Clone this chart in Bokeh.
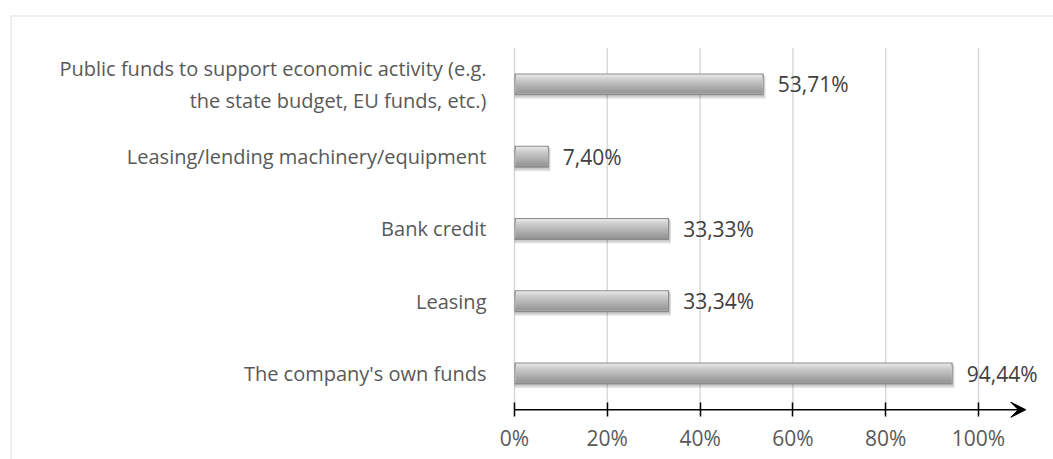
from bokeh.plotting import figure
from bokeh.models import (ColumnDataSource, FixedTicker, PrintfTickFormatter, Arrow,
                          VeeHead, BoxAnnotation, Range1d, LinearAxis)
from bokeh.transform import dodge
from bokeh.core.properties import value
from bokeh.embed import file_html
from bokeh.resources import INLINE

# ---- data (bottom to top) ----
categories = [
    "The company's own funds",
    "Leasing",
    "Bank credit",
    "Leasing/lending machinery/equipment",
    "Public funds to support economic activity (e.g.\nthe state budget, EU funds, etc.)",
]
shares = [94.44, 33.34, 33.33, 7.40, 53.71]
share_labels = ["94,44%", "33,34%", "33,33%", "7,40%", "53,71%"]
x_ticks = [0, 20, 40, 60, 80, 100]

positions = list(range(len(categories)))
src = ColumnDataSource(dict(pos=positions, share=shares, lab=share_labels))

W, H = 1053, 459
PX = 1.0 / 72.4  # one pixel in category units

p = figure(width=W, height=H, output_backend="svg", toolbar_location=None,
           x_range=Range1d(-110.776, 116.164), y_range=Range1d(-1.188, 5.160),
           x_axis_location=None, y_axis_location=None,
           min_border_left=0, min_border_right=0, min_border_top=0, min_border_bottom=0)
p.outline_line_color = None
p.xgrid.visible = False
p.ygrid.visible = False
p.background_fill_color = "white"
p.border_fill_color = "white"

# chart border (top & left light gray lines)
p.add_layout(BoxAnnotation(left=10.5, right=1100, top=15.5, bottom=520,
                           left_units="canvas", right_units="canvas",
                           top_units="canvas", bottom_units="canvas",
                           fill_alpha=0, line_color="#c8c8c8", line_width=2,
                           level="underlay"))

# vertical gridlines
p.segment(x0=x_ticks, y0=[-0.5] * len(x_ticks), x1=x_ticks, y1=[len(categories) - 0.5] * len(x_ticks),
          line_color="#d9d9d9", line_width=1.5)

# bar shadow
p.hbar(y=dodge("pos", -3 * PX, range=p.y_range), left=0, right=dodge("share", 0.4, range=p.x_range),
       height=23 * PX, source=src, fill_color="black", fill_alpha=0.10, line_color=None)
p.hbar(y=dodge("pos", -2 * PX, range=p.y_range), left=0, right=dodge("share", 0.25, range=p.x_range),
       height=22 * PX, source=src, fill_color="black", fill_alpha=0.10, line_color=None)
# bar base (edges)
p.hbar(y="pos", left=0, right="share", height=22 * PX, source=src,
       fill_color="#8c8c8c", line_color=None)
# gradient: 1px overlapping layers from the top highlight down to the darker lower part
grad = ["#e6e6e6", "#e0e0e0", "#dadada", "#d4d4d4", "#cfcfcf", "#cacaca", "#c6c6c6",
        "#c2c2c2", "#bebebe", "#bababa", "#b6b6b6", "#b2b2b2", "#aeaeae", "#aaaaaa",
        "#a6a6a6", "#a2a2a2", "#9e9e9e", "#9a9a9a"]
top_px = -10
bottom_px = 9
for k, c in enumerate(grad):
    t = top_px + k
    mid = -(t + bottom_px) / 2.0
    p.hbar(y=dodge("pos", mid * PX, range=p.y_range), left=0.3,
           right=dodge("share", -0.3, range=p.x_range), height=(bottom_px - t) * PX,
           source=src, fill_color=c, line_color=None)

# value labels
p.text(x="share", y="pos", text="lab", source=src, x_offset=14,
       text_baseline="middle", text_align="left",
       text_font=value("Open Sans"), text_font_size="21px", text_color="#404040")

# x axis with arrow
xaxis = LinearAxis(fixed_location=-0.5, ticker=FixedTicker(ticks=x_ticks),
                   formatter=PrintfTickFormatter(format="%d%%"))
xaxis.axis_line_color = None
xaxis.major_tick_in = 7
xaxis.major_tick_out = 7
xaxis.major_tick_line_color = "black"
xaxis.major_tick_line_width = 1.5
xaxis.minor_tick_line_color = None
xaxis.major_label_text_font = "Open Sans"
xaxis.major_label_text_font_size = "21px"
xaxis.major_label_text_color = "#595959"
xaxis.major_label_standoff = 7
p.add_layout(xaxis, "below")

p.add_layout(Arrow(end=VeeHead(size=15, fill_color="black", line_color="black", line_width=1),
                   x_start=0, y_start=-0.5, x_end=110.2, y_end=-0.5,
                   line_color="black", line_width=1.5))

# y axis with category labels
yaxis = LinearAxis(fixed_location=0, ticker=FixedTicker(ticks=positions))
yaxis.major_label_overrides = {i: c for i, c in zip(positions, categories)}
yaxis.axis_line_color = None
yaxis.major_tick_line_color = None
yaxis.minor_tick_line_color = None
yaxis.major_label_text_font = "Open Sans"
yaxis.major_label_text_font_size = "20px"
yaxis.major_label_text_color = "#595959"
yaxis.major_label_standoff = 22
p.add_layout(yaxis, "left")

open("out.html", "w").write(file_html(p, INLINE))
